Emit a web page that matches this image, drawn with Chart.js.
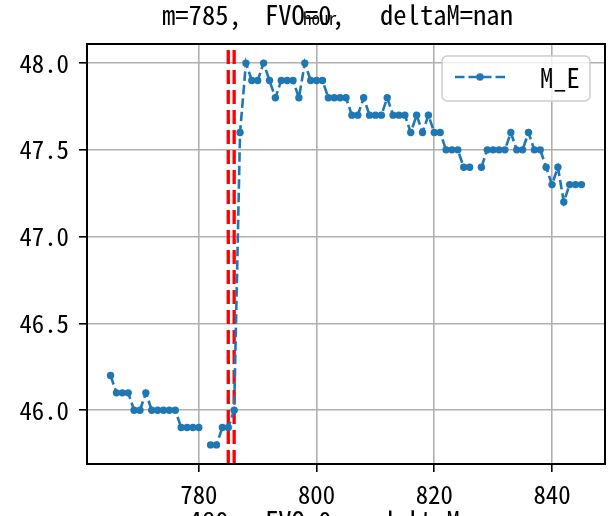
<!DOCTYPE html>
<html>
<head>
<meta charset="utf-8">
<script src="https://cdn.jsdelivr.net/npm/chart.js@4.4.1/dist/chart.umd.min.js"></script>
<style>
  html, body { margin: 0; padding: 0; background: #fff; }
  canvas { display: block; }
</style>
</head>
<body>
<canvas id="myChart" width="615" height="516"></canvas>
<script>
const hours = [765, 766, 767, 768, 769, 770, 771, 772, 773, 774, 775, 776, 777, 778, 779, 780,
  781, 782, 783, 784, 785, 786, 787, 788, 789, 790, 791, 792, 793, 794, 795, 796, 797, 798, 799, 800,
  801, 802, 803, 804, 805, 806, 807, 808, 809, 810, 811, 812, 813, 814, 815, 816, 817, 818, 819, 820,
  821, 822, 823, 824, 825, 826, 827, 828, 829, 830, 831, 832, 833, 834, 835, 836, 837, 838, 839, 840,
  841, 842, 843, 844, 845];
const mE = [46.2, 46.1, 46.1, 46.1, 46.0, 46.0, 46.1, 46.0, 46.0, 46.0, 46.0, 46.0, 45.9, 45.9, 45.9, 45.9,
  null, 45.8, 45.8, 45.9, 45.9, 46.0, 47.6, 48.0, 47.9, 47.9, 48.0, 47.9, 47.8, 47.9, 47.9, 47.9, 47.8, 48.0, 47.9, 47.9,
  47.9, 47.8, 47.8, 47.8, 47.8, 47.7, 47.7, 47.8, 47.7, 47.7, 47.7, 47.8, 47.7, 47.7, 47.7, 47.6, 47.7, 47.6, 47.7, 47.6,
  47.6, 47.5, 47.5, 47.5, 47.4, 47.4, null, 47.4, 47.5, 47.5, 47.5, 47.5, 47.6, 47.5, 47.5, 47.6, 47.5, 47.5, 47.4, 47.3,
  47.4, 47.2, 47.3, 47.3, 47.3];
const xTicks = [780, 800, 820, 840];
const yTicks = [46.0, 46.5, 47.0, 47.5, 48.0];
const markLines = [785, 786];
const seriesName = "M_E";
const titleParts = ["m=785,", "FVO=0,", "deltaM=nan"];
const nextTitleParts = ["m=480,", "FVO=0,", "deltaM=nan"];
const axisLabel = "hour";

document.addEventListener("DOMContentLoaded", function () {
  const FAMILY = "'Noto Sans Mono CJK SC', 'DejaVu Sans Mono', 'Liberation Mono', monospace";

  // size the monospace font so one character takes a given width
  const probe = document.createElement("canvas").getContext("2d");
  probe.font = "100px " + FAMILY;
  const adv = probe.measureText("0000000000").width / 1000;
  const sizeFor = (w) => Math.round((w / adv) * 10) / 10;

  const tickSize = sizeFor(12.4);
  const titleSize = sizeFor(13.3);
  const smallSize = sizeFor(8.5);

  const ctx = document.getElementById("myChart").getContext("2d");

  const points = hours.map((h, i) => ({ x: h, y: mE[i] }));

  const extras = {
    id: "extras",
    beforeDatasetsDraw(chart) {
      const c = chart.ctx;
      const area = chart.chartArea;
      const xs = chart.scales.x;
      c.save();
      c.strokeStyle = "#ff0000";
      c.lineWidth = 3.3;
      c.setLineDash([14, 6]);
      markLines.forEach((v) => {
        const px = xs.getPixelForValue(v);
        c.beginPath();
        c.moveTo(px, area.bottom);
        c.lineTo(px, area.top);
        c.stroke();
      });
      c.restore();
    },
    afterDatasetsDraw(chart) {
      const c = chart.ctx;
      const a = chart.chartArea;
      c.save();
      // frame
      c.strokeStyle = "#000";
      c.lineWidth = 2;
      c.strokeRect(a.left, a.top, a.right - a.left, a.bottom - a.top);

      // legend
      const bx = a.right - 163, by = a.top + 12, bw = 148, bh = 45;
      c.beginPath();
      c.roundRect(bx, by, bw, bh, 5);
      c.fillStyle = "rgba(255,255,255,0.8)";
      c.fill();
      c.strokeStyle = "#cccccc";
      c.lineWidth = 1.5;
      c.stroke();
      const ly = by + 21;
      c.strokeStyle = "#1f77b4";
      c.lineWidth = 2.6;
      c.setLineDash([9.5, 4]);
      c.beginPath();
      c.moveTo(bx + 13, ly);
      c.lineTo(bx + 63, ly);
      c.stroke();
      c.setLineDash([]);
      c.fillStyle = "#1f77b4";
      c.beginPath();
      c.arc(bx + 38, ly, 3.7, 0, Math.PI * 2);
      c.fill();
      c.fillStyle = "#000";
      c.font = titleSize + "px " + FAMILY;
      c.textBaseline = "middle";
      c.textAlign = "left";
      c.fillText(seriesName, bx + 98, ly + 1);
      c.restore();
    },
    afterDraw(chart) {
      const c = chart.ctx;
      c.save();
      c.fillStyle = "#000";
      c.textBaseline = "alphabetic";
      c.textAlign = "left";
      c.font = titleSize + "px " + FAMILY;
      const starts = [162, 265, 380];
      titleParts.forEach((t, i) => c.fillText(t, starts[i], 25));
      nextTitleParts.forEach((t, i) => c.fillText(t, starts[i], 531));
      c.font = smallSize + "px " + FAMILY;
      c.fillText(axisLabel, 303, 25);
      c.restore();
    },
  };

  const config = {
    type: "line",
    data: {
      datasets: [
        {
          label: seriesName,
          data: points,
          borderColor: "#1f77b4",
          backgroundColor: "#1f77b4",
          borderWidth: 2.6,
          borderDash: [9.5, 4],
          pointRadius: 3.7,
          pointHoverRadius: 3.7,
          pointBorderWidth: 0,
          tension: 0,
          spanGaps: false,
        },
      ],
    },
    options: {
      responsive: false,
      animation: false,
      devicePixelRatio: 1,
      layout: { padding: { top: 44, right: 10, left: 0, bottom: 0 } },
      plugins: {
        legend: { display: false },
        title: { display: false },
        tooltip: { enabled: false },
      },
      scales: {
        x: {
          type: "linear",
          min: 761,
          max: 849,
          afterBuildTicks: (s) => { s.ticks = xTicks.map((v) => ({ value: v })); },
          afterFit: (s) => { s.height = 52; },
          ticks: {
            color: "#000",
            font: { family: FAMILY, size: tickSize },
            padding: 8,
            maxRotation: 0,
            callback: (v) => String(v),
          },
          grid: { color: "#b0b0b0", lineWidth: 1.6, tickColor: "#000", tickLength: 8, tickWidth: 1.6 },
          border: { color: "#000", width: 2 },
        },
        y: {
          min: 45.69,
          max: 48.11,
          afterBuildTicks: (s) => { s.ticks = yTicks.map((v) => ({ value: v })); },
          afterFit: (s) => { s.width = 87; },
          ticks: {
            color: "#000",
            font: { family: FAMILY, size: tickSize },
            padding: 10,
            callback: (v) => Number(v).toFixed(1),
          },
          grid: { color: "#b0b0b0", lineWidth: 1.6, tickColor: "#000", tickLength: 8, tickWidth: 1.6 },
          border: { color: "#000", width: 2 },
        },
      },
    },
    plugins: [extras],
  };

  new Chart(ctx, config);
});
</script>
</body>
</html>
